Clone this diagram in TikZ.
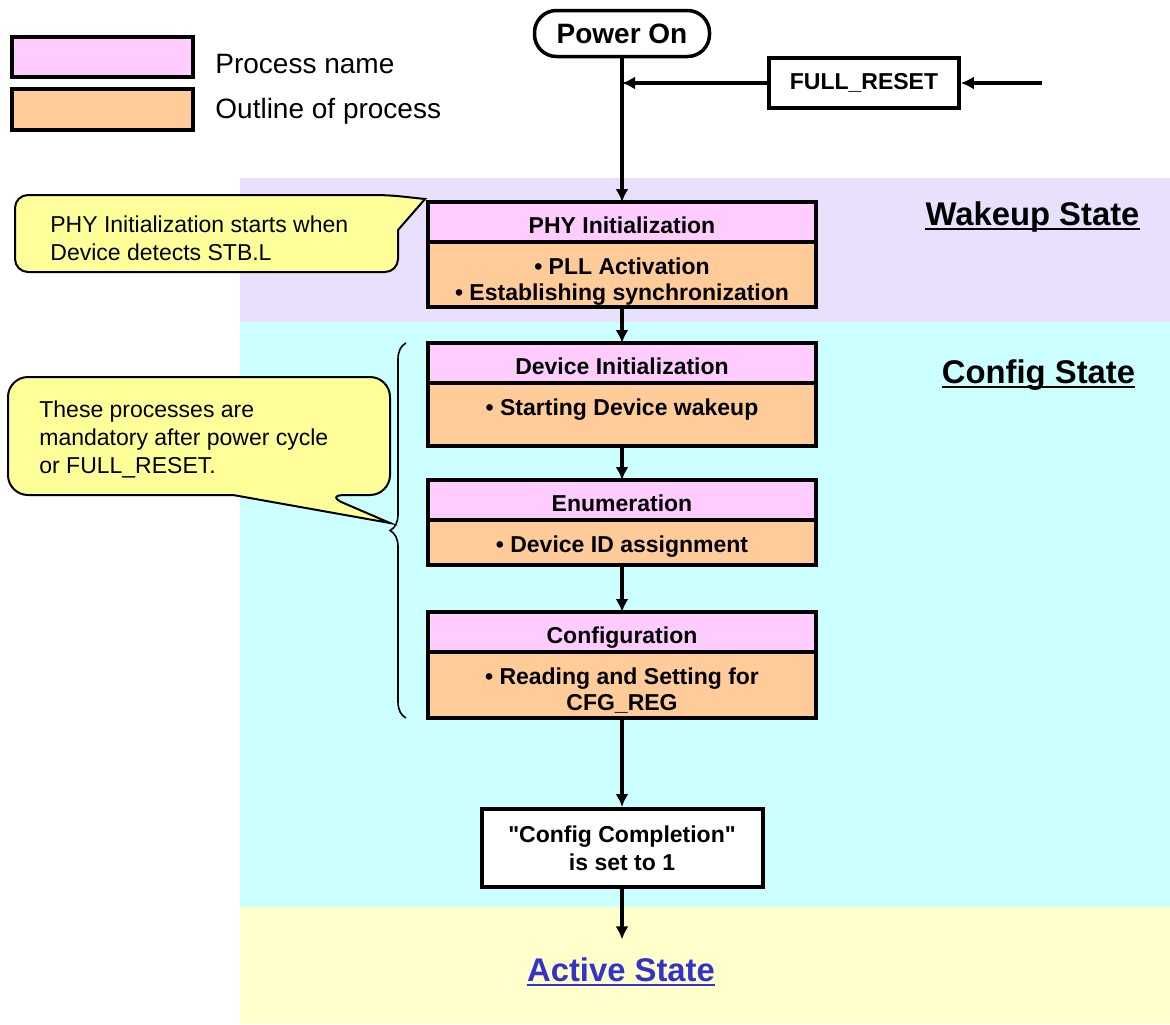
\documentclass[tikz,border=0pt]{standalone}
\usepackage{fontspec}
\setmainfont{Liberation Sans}
\usetikzlibrary{arrows.meta,positioning,decorations.pathreplacing}
\usepackage{xcolor}
\definecolor{headpink}{RGB}{255,204,255}
\definecolor{bodyorange}{RGB}{255,204,153}
\definecolor{wakebg}{RGB}{232,224,252}
\definecolor{configbg}{RGB}{204,255,255}
\definecolor{activebg}{RGB}{255,255,204}
\definecolor{noteyellow}{RGB}{255,255,153}
\definecolor{activeblue}{RGB}{51,51,204}
\newcommand{\boxfont}{\fontsize{11.5}{13}\selectfont\bfseries}
\newcommand\bodylines[2]{\parbox[c][#1][t]{186pt}{\centering#2}}
\tikzset{
  head/.style={draw, line width=2pt, fill=headpink, minimum width=194pt, minimum height=20pt,
    inner sep=0pt, outer sep=0pt, text height=11pt, text depth=0pt, font=\boxfont},
  body/.style={draw, line width=2pt, fill=bodyorange, minimum width=194pt,
    inner xsep=0pt, inner ysep=7.8pt, outer sep=0pt, font=\boxfont},
  plain/.style={draw, line width=1.75pt, fill=white, font=\boxfont},
  arr/.style={-{Latex[length=6.5pt,width=6.5pt]}, line width=2pt},
  note/.style={draw, line width=1pt, fill=noteyellow},
  notetext/.style={anchor=north west, inner sep=0pt, align=left, font=\fontsize{11.5}{14}\selectfont},
  legtext/.style={anchor=base west, inner sep=0pt, font=\fontsize{14}{16}\selectfont},
  state/.style={inner sep=0pt, text depth=0pt, anchor=south, font=\fontsize{16.4}{19}\selectfont\bfseries},
}
\begin{document}
\begin{tikzpicture}[x=0.5pt, y=-0.5pt]
            \useasboundingbox (0,0) rectangle (1170,1024);

            % Фоновые области состояний
            \fill[wakebg] (240,178) rectangle (1170,322);
            \fill[configbg] (240,322) rectangle (1170,907);
            \fill[activebg] (240,907) rectangle (1170,1024);

            % Легенда
            \node[draw, line width=2pt, fill=headpink, minimum width=90.5pt, minimum height=20pt] (legName) at (102.5,57) {};
            \node[draw, line width=2pt, fill=bodyorange, minimum width=90.5pt, minimum height=20.5pt] (legOutline) at (102.5,109.5) {};
            \node[legtext] (legNameTxt) at (215,73) {Process name};
            \node[legtext] (legOutlineTxt) at (215,118) {Outline of process};

            % Начало и сброс
            \node[plain, rounded corners=11pt, minimum width=87.5pt, minimum height=23pt,
                  font=\fontsize{14}{16}\selectfont\bfseries] (power) at (622,33.5) {Power On};
            \node[plain, minimum width=95pt, minimum height=25pt] (reset) at (864,83) {FULL\_RESET};
            \coordinate (resetIn) at (1042,83);

            % Процессы
            \node[head] (phyHead) at (622,222) {PHY Initialization};
            \node[body, below=0pt of phyHead] (phyBody)
                {\bodylines{16.9pt}{• PLL Activation\\• Establishing synchronization}};

            \node[head, below=18pt of phyBody] (devHead) {Device Initialization};
            \node[body, below=0pt of devHead] (devBody)
                {\bodylines{15.9pt}{• Starting Device wakeup}};

            \node[head, below=17pt of devBody] (enumHead) {Enumeration};
            \node[body, below=0pt of enumHead] (enumBody)
                {\bodylines{6.9pt}{• Device ID assignment}};

            \node[head, below=23.5pt of enumBody] (cfgHead) {Configuration};
            \node[body, below=0pt of cfgHead] (cfgBody)
                {\bodylines{17.4pt}{• Reading and Setting for\\CFG\_REG}};

            \node[plain, line width=2pt, minimum width=140.5pt, minimum height=39pt, align=center,
                  font=\fontsize{11.5}{14}\selectfont\bfseries, below=44.5pt of cfgBody] (done)
                {\textquotedbl Config Completion\textquotedbl\\is set to 1};

            % Подписи состояний
            \node[state] (wakeLbl) at (1032.5,226) {Wakeup State};
            \node[state] (cfgLbl) at (1038.5,384) {Config State};
            \node[state, text=activeblue] (activeLbl) at (621,982) {Active State};
            \draw[line width=1.2pt] ([yshift=-1.5pt]wakeLbl.south west) -- ([yshift=-1.5pt]wakeLbl.south east);
            \draw[line width=1.2pt] ([yshift=-1.5pt]cfgLbl.south west) -- ([yshift=-1.5pt]cfgLbl.south east);
            \draw[line width=1.2pt, activeblue] ([yshift=-1.5pt]activeLbl.south west) -- ([yshift=-1.5pt]activeLbl.south east);

            % Выноски
            \draw[note, rounded corners=6.5pt]
                (15,233) -- (15,195) -- (388,195) [sharp corners] --
                (425,199) -- (398,230) [rounded corners=6.5pt] --
                (398,272) -- (15,272) -- cycle;
            \node[notetext] (phyNote) at (50,215) {PHY Initialization starts when\\Device detects STB.L};

            \draw[note, rounded corners=10pt]
                (8,436) -- (8,377) -- (390,377) -- (390,495) -- (325,495) [sharp corners] --
                (390,523) -- (233,495) [rounded corners=10pt] -- (8,495) -- cycle;
            \node[notetext] (mandNote) at (39,400) {These processes are\\mandatory after power cycle\\or FULL\_RESET.};

            % Фигурная скобка
            \draw[line width=0.8pt, decorate, decoration={brace, amplitude=8pt}]
                ([xshift=-11pt]cfgBody.south west) -- ([xshift=-11pt]devHead.north west);

            % Стрелки
            \draw[arr] (resetIn) -- (reset);
            \draw[arr] (reset) -- (reset -| power);
            \draw[arr] (power) -- (phyHead);
            \draw[arr] (phyBody) -- (devHead);
            \draw[arr] (devBody) -- (enumHead);
            \draw[arr] (enumBody) -- (cfgHead);
            \draw[arr] (cfgBody) -- (done);
            \draw[arr, shorten >=9pt] (done) -- (done |- activeLbl.north);
        \end{tikzpicture}
\end{document}
